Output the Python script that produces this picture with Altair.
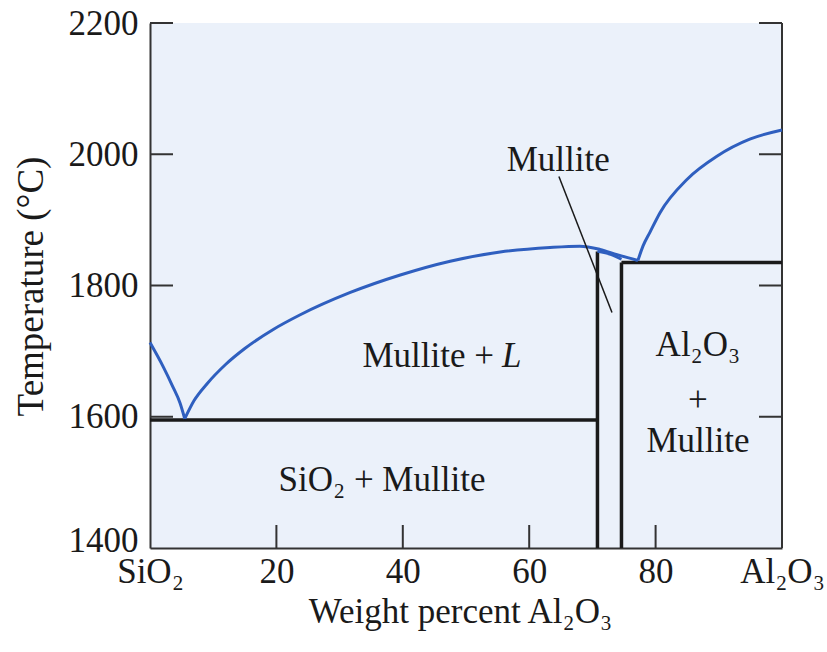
import altair as alt
import pandas as pd

# Liquidus, left branch (pure SiO2 down to the SiO2-mullite eutectic)
liq_left_x = [0, 2.1, 3.6, 4.75, 5.5]
liq_left_t = [1713, 1676, 1646, 1621, 1597]

# Liquidus over the mullite + L field
liq_mid_x = [5.5, 7.0, 9.0, 12.0, 15.0, 19.5, 23.7, 31.6, 39.6, 47.5, 55.4, 63.3, 68.0, 71.2, 73.9, 77.2]
liq_mid_t = [1597, 1625, 1650, 1680, 1704, 1733, 1755, 1789, 1816, 1837, 1851, 1858, 1860, 1855, 1847, 1838]

# Liquidus, right branch (mullite-Al2O3 eutectic up to pure Al2O3)
liq_right_x = [77.2, 78.0, 79.1, 80.7, 85.0, 89.7, 94.9, 100]
liq_right_t = [1838, 1860, 1881, 1911, 1962, 1997, 2023, 2037]

# Top of the mullite solid-solution field
sol_x = [70.8, 73.0, 74.6]
sol_t = [1852, 1847, 1840]

# Phase boundaries (straight black lines): x, t, x2, t2
bound_x = [0, 70.8, 74.6, 74.6]
bound_t = [1595, 1400, 1400, 1835]
bound_x2 = [70.8, 70.8, 74.6, 100]
bound_t2 = [1595, 1852, 1835, 1835]

# Leader line from the "Mullite" label
lead_x, lead_t, lead_x2, lead_t2 = [64.7], [1966], [73.1], [1759]

# Ticks
x_ticks = [0, 20, 40, 60, 80, 100]
y_ticks = [1400, 1600, 1800, 2000, 2200]

# Field labels
lab_x = [64.6, 36.7, 86.7, 86.7, 86.7]
lab_t = [1992, 1503, 1710, 1626, 1563]
lab_text = ["Mullite", "SiO₂ + Mullite", "Al₂O₃", "+", "Mullite"]

FONT = "Liberation Serif"
INK = "#1a1a1a"
BLUE = "#2f5fbf"
FS = 35

xs = alt.Scale(domain=[0, 100], nice=False, zero=False)
ys = alt.Scale(domain=[1400, 2200], nice=False, zero=False)

x_axis = alt.Axis(
    values=x_ticks,
    labelExpr="datum.value == 0 ? 'SiO₂' : datum.value == 100 ? 'Al₂O₃' : datum.label",
    title="Weight percent Al₂O₃",
    grid=False, ticks=False, domainColor="#333333", domainWidth=2,
    labelFont=FONT, labelFontSize=FS, labelColor=INK, labelPadding=6,
    labelFlush=False, labelOverlap=False,
    titleFont=FONT, titleFontSize=FS, titleFontWeight="normal", titleColor=INK,
    titleX=310, titleY=74, titleBaseline="alphabetic",
)
y_axis = alt.Axis(
    values=y_ticks, format="d",
    title="Temperature (°C)",
    grid=False, ticks=False, domainColor="#333333", domainWidth=2,
    labelFont=FONT, labelFontSize=FS, labelColor=INK, labelPadding=12,
    labelFlush=False, labelOverlap=False,
    # the bottom label sits a little above the corner, clear of the x labels
    labelOffset={"condition": {"test": "datum.value == 1400", "value": -8}, "value": 0},
    titleFont=FONT, titleFontSize=37, titleFontWeight="normal", titleColor=INK,
    titleX=-119, titleY=263, titleBaseline="middle",
)


def X(field="x"):
    return alt.X(f"{field}:Q", scale=xs, axis=x_axis)


def Y(field="t"):
    return alt.Y(f"{field}:Q", scale=ys, axis=y_axis)


def curve(xv, tv):
    df = pd.DataFrame({"x": xv, "t": tv, "o": range(len(xv))})
    return alt.Chart(df).mark_line(
        color=BLUE, strokeWidth=3, interpolate="monotone"
    ).encode(x=X(), y=Y(), order="o:Q")


bounds = alt.Chart(pd.DataFrame({
    "x": bound_x, "t": bound_t, "x2": bound_x2, "t2": bound_t2
})).mark_rule(color=INK, strokeWidth=3.5).encode(
    x=X(), y=Y(), x2="x2:Q", y2="t2:Q"
)

leader = alt.Chart(pd.DataFrame({
    "x": lead_x, "t": lead_t, "x2": lead_x2, "t2": lead_t2
})).mark_rule(color=INK, strokeWidth=1.5).encode(
    x=X(), y=Y(), x2="x2:Q", y2="t2:Q"
)

# Right-hand frame line
right_frame = alt.Chart(pd.DataFrame({"x": [100], "t": [1400], "t2": [2200]})).mark_rule(
    color="#333333", strokeWidth=2
).encode(x=X(), y=Y(), y2="t2:Q")

# Inward tick marks on left, right and bottom edges
yt = pd.DataFrame({"t": [v for v in y_ticks if v > 1400]})
left_ticks = alt.Chart(yt).mark_rule(color="#333333", strokeWidth=2).encode(
    y=Y(), x=alt.value(0), x2=alt.value(23)
)
right_ticks = alt.Chart(yt).mark_rule(color="#333333", strokeWidth=2).encode(
    y=Y(), x=alt.value(632), x2=alt.value(609)
)
xt = pd.DataFrame({"x": [v for v in x_ticks if 0 < v < 100]})
bottom_ticks = alt.Chart(xt).mark_rule(color="#333333", strokeWidth=2).encode(
    x=X(), y=alt.value(525), y2=alt.value(502)
)

labels = alt.Chart(pd.DataFrame({"x": lab_x, "t": lab_t, "txt": lab_text})).mark_text(
    font=FONT, fontSize=FS, color=INK, align="center", baseline="middle"
).encode(x=X(), y=Y(), text="txt:N")

# "Mullite + L" with an italic L
ml = pd.DataFrame({"x": [54.9], "t": [1692]})
ml_left = alt.Chart(ml).mark_text(
    font=FONT, fontSize=FS, color=INK, align="right", baseline="middle", dx=-3
).encode(x=X(), y=Y(), text=alt.value("Mullite +"))
ml_right = alt.Chart(ml).mark_text(
    font=FONT, fontSize=FS, color=INK, align="left", baseline="middle", dx=5,
    fontStyle="italic"
).encode(x=X(), y=Y(), text=alt.value("L"))

chart = alt.layer(
    right_frame, left_ticks, right_ticks, bottom_ticks,
    bounds,
    curve(liq_left_x, liq_left_t),
    curve(liq_mid_x, liq_mid_t),
    curve(liq_right_x, liq_right_t),
    curve(sol_x, sol_t),
    leader, labels, ml_left, ml_right,
).properties(
    width=632, height=525,
    autosize=alt.AutoSizeParams(type="none"),
    padding={"left": 150, "top": 23, "right": 45, "bottom": 104},
    background="white",
).configure_view(
    fill="#ebf1fa", stroke=None
)

chart.save("out.html", embed_options={"renderer": "svg", "actions": False})
